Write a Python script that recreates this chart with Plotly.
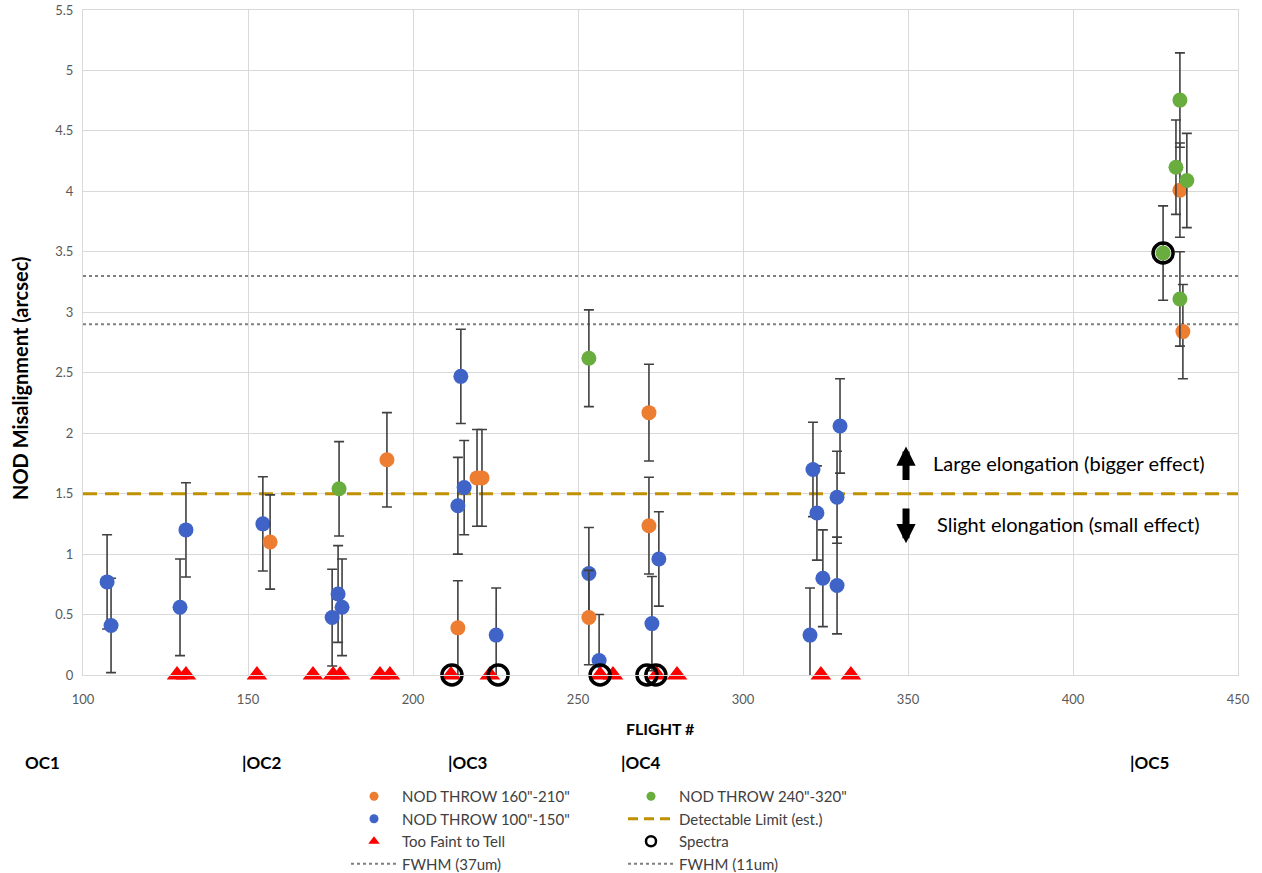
import plotly.graph_objects as go

# ---- data -------------------------------------------------------------
# NOD THROW 160"-210"
orange_x = [156.7, 192.1, 213.6, 219.4, 220.9, 253.3, 271.5, 271.5, 432.4, 433.3]
orange_y = [1.10, 1.78, 0.39, 1.63, 1.63, 0.475, 2.17, 1.235, 4.01, 2.84]
orange_err = [0.39, 0.39, 0.39, 0.40, 0.40, 0.39, 0.40, 0.40, 0.39, 0.39]

# NOD THROW 100"-150"
blue_x = [107.3, 108.5, 129.4, 131.2, 154.5, 175.5, 177.3, 178.5, 213.6, 214.5,
          215.5, 225.2, 253.3, 256.4, 272.4, 274.5, 320.3, 321.2, 322.4, 324.2,
          328.5, 328.5, 329.4]
blue_y = [0.77, 0.41, 0.56, 1.20, 1.25, 0.475, 0.67, 0.56, 1.40, 2.47,
          1.55, 0.33, 0.84, 0.12, 0.425, 0.96, 0.33, 1.70, 1.34, 0.80,
          1.47, 0.74, 2.06]
blue_err = [0.39, 0.39, 0.40, 0.39, 0.39, 0.40, 0.40, 0.40, 0.40, 0.39,
            0.39, 0.39, 0.38, 0.38, 0.39, 0.39, 0.39, 0.39, 0.39, 0.40,
            0.38, 0.40, 0.39]

# NOD THROW 240"-320"
green_x = [177.6, 253.3, 427.3, 431.2, 432.4, 434.5, 432.4]
green_y = [1.54, 2.62, 3.49, 4.20, 4.755, 4.09, 3.11]
green_err = [0.39, 0.40, 0.39, 0.39, 0.39, 0.39, 0.39]

# Too Faint to Tell (plotted on the axis)
faint_x = [128.5, 131.2, 152.7, 169.7, 175.8, 177.9, 190.0, 193.0, 211.5, 223.3,
           256.7, 260.6, 273.9, 280.0, 323.6, 332.7]
faint_y = [0] * len(faint_x)

# Spectra
spectra_x = [211.8, 225.8, 256.7, 270.9, 273.6, 427.3]
spectra_y = [0, 0, 0, 0, 0, 3.49]

detect_limit = 1.5
fwhm_37 = 3.3
fwhm_11 = 2.9

flight_ticks = [100, 150, 200, 250, 300, 350, 400, 450]
x_range = [100, 450]
y_range = [0, 5.5]

oc_labels = ["OC1", "|OC2", "|OC3", "|OC4", "|OC5"]
oc_label_px = [23, 240, 446, 619, 1128]

# ---- style ------------------------------------------------------------
ORANGE = "#ED7D31"
BLUE = "#3F63C6"
GREEN = "#6AAD3F"
RED = "#FF0000"
GOLD = "#BF9000"
GREY_DOT = "#7F7F7F"
ERR = "#404040"
FONT = "Lato"

# plot-area geometry in pixels
PL, PR, PT, PB = 83, 1238, 10, 675
PW, PH = PR - PL, PB - PT

fig = go.Figure()

err_style = dict(type="data", thickness=1.6, width=5, color=ERR)

def dots(xs, ys, errs, color):
    fig.add_trace(go.Scatter(
        x=xs, y=ys, mode="markers", showlegend=False,
        marker=dict(size=15, color=color, line=dict(width=0)),
        error_y=dict(array=errs, **err_style),
    ))

# reference lines
fig.add_trace(go.Scatter(x=x_range, y=[fwhm_37, fwhm_37], mode="lines", showlegend=False,
                         line=dict(color=GREY_DOT, width=2, dash="dot")))
fig.add_trace(go.Scatter(x=x_range, y=[fwhm_11, fwhm_11], mode="lines", showlegend=False,
                         line=dict(color=GREY_DOT, width=2, dash="dot")))
fig.add_trace(go.Scatter(x=x_range, y=[detect_limit, detect_limit], mode="lines", showlegend=False,
                         line=dict(color=GOLD, width=3, dash="14px,8px")))

dots(blue_x, blue_y, blue_err, BLUE)
dots(orange_x, orange_y, orange_err, ORANGE)
dots(green_x, green_y, green_err, GREEN)

fig.add_trace(go.Scatter(
    x=faint_x, y=faint_y, mode="markers", showlegend=False, cliponaxis=False,
    marker=dict(symbol="triangle-up", size=18, color=RED, line=dict(width=0)),
))
fig.add_trace(go.Scatter(
    x=spectra_x, y=spectra_y, mode="markers", showlegend=False, cliponaxis=False,
    marker=dict(symbol="circle-open", size=20, color="black", line=dict(width=3.5, color="black")),
))

# ---- legend entries (two columns) ------------------------------------
def entry(name, legend, group, **kw):
    fig.add_trace(go.Scatter(x=[None], y=[None], name=name, legend=legend,
                             legendgroup=group, showlegend=True, **kw))

entry('NOD THROW 160"-210"', "legend", "a1", mode="markers",
      marker=dict(size=9, color=ORANGE))
entry('NOD THROW 100"-150"', "legend", "a2", mode="markers",
      marker=dict(size=9, color=BLUE))
entry("Too Faint to Tell", "legend", "a3", mode="markers",
      marker=dict(symbol="triangle-up", size=10, color=RED))
entry("FWHM (37um)", "legend", "a4", mode="lines",
      line=dict(color=GREY_DOT, width=2, dash="dot"))

entry('NOD THROW 240"-320"', "legend2", "b1", mode="markers",
      marker=dict(size=9, color=GREEN))
entry("Detectable Limit (est.)", "legend2", "b2", mode="lines",
      line=dict(color=GOLD, width=3, dash="10px,6px"))
entry("Spectra", "legend2", "b3", mode="markers",
      marker=dict(symbol="circle-open", size=10, color="black", line=dict(width=2.5)))
entry("FWHM (11um)", "legend2", "b4", mode="lines",
      line=dict(color=GREY_DOT, width=2, dash="dot"))

legend_common = dict(
    font=dict(family=FONT, size=15, color="#404040"),
    bgcolor="rgba(0,0,0,0)", borderwidth=0,
    tracegroupgap=0, itemwidth=46, yanchor="top", xanchor="left",
    orientation="v",
)

# ---- annotations -------------------------------------------------------
def bold(size):
    return dict(family=FONT, size=size, color="black")

ann = []
ann.append(dict(text="<b>FLIGHT #</b>", xref="paper", yref="paper", x=(660 - PL) / PW,
                y=(PB - 728) / PH, showarrow=False, font=bold(16),
                xanchor="center", yanchor="middle"))
ann.append(dict(text="<b>NOD Misalignment (arcsec)</b>", xref="paper", yref="paper",
                x=(20 - PL) / PW, y=(PB - 378) / PH, textangle=-90, showarrow=False,
                font=bold(20), xanchor="center", yanchor="middle"))
for label, px in zip(oc_labels, oc_label_px):
    ann.append(dict(text="<b>" + label + "</b>", xref="paper", yref="paper",
                    x=(px - PL) / PW, y=(PB - 762) / PH, showarrow=False, font=bold(17),
                    xanchor="left", yanchor="middle"))

ann.append(dict(text="Large elongation (bigger effect)", x=357.0, y=1.75, xref="x", yref="y",
                showarrow=False, xanchor="left", yanchor="middle",
                font=dict(family=FONT, size=20, color="black")))
ann.append(dict(text="Slight elongation (small effect)", x=358.2, y=1.245, xref="x", yref="y",
                showarrow=False, xanchor="left", yanchor="middle",
                font=dict(family=FONT, size=20, color="black")))
ann.append(dict(x=349.4, y=1.89, ax=349.4, ay=1.60, xref="x", yref="y", axref="x", ayref="y",
                text="", showarrow=True, arrowhead=2, arrowsize=0.55, arrowwidth=7,
                arrowcolor="black"))
ann.append(dict(x=349.4, y=1.09, ax=349.4, ay=1.39, xref="x", yref="y", axref="x", ayref="y",
                text="", showarrow=True, arrowhead=2, arrowsize=0.55, arrowwidth=7,
                arrowcolor="black"))

axis_common = dict(showgrid=True, gridcolor="#D9D9D9", gridwidth=1,
                   showline=True, linecolor="#D9D9D9", linewidth=1, mirror=True,
                   zeroline=False, ticks="",
                   tickfont=dict(family=FONT, size=13, color="#595959"))

fig.update_layout(
    width=1262, height=873,
    margin=dict(l=PL, r=1262 - PR, t=PT, b=873 - PB, autoexpand=False),
    paper_bgcolor="white", plot_bgcolor="white",
    xaxis=dict(range=x_range, tickvals=flight_ticks, ticklabelstandoff=12, **axis_common),
    yaxis=dict(range=y_range, dtick=0.5, tick0=0, ticklabelstandoff=6, **axis_common),
    annotations=ann,
    legend=dict(x=(346 - PL) / PW, y=(PB - 780) / PH, **legend_common),
    legend2=dict(x=(623 - PL) / PW, y=(PB - 780) / PH, **legend_common),
)

fig.write_html("out.html")
